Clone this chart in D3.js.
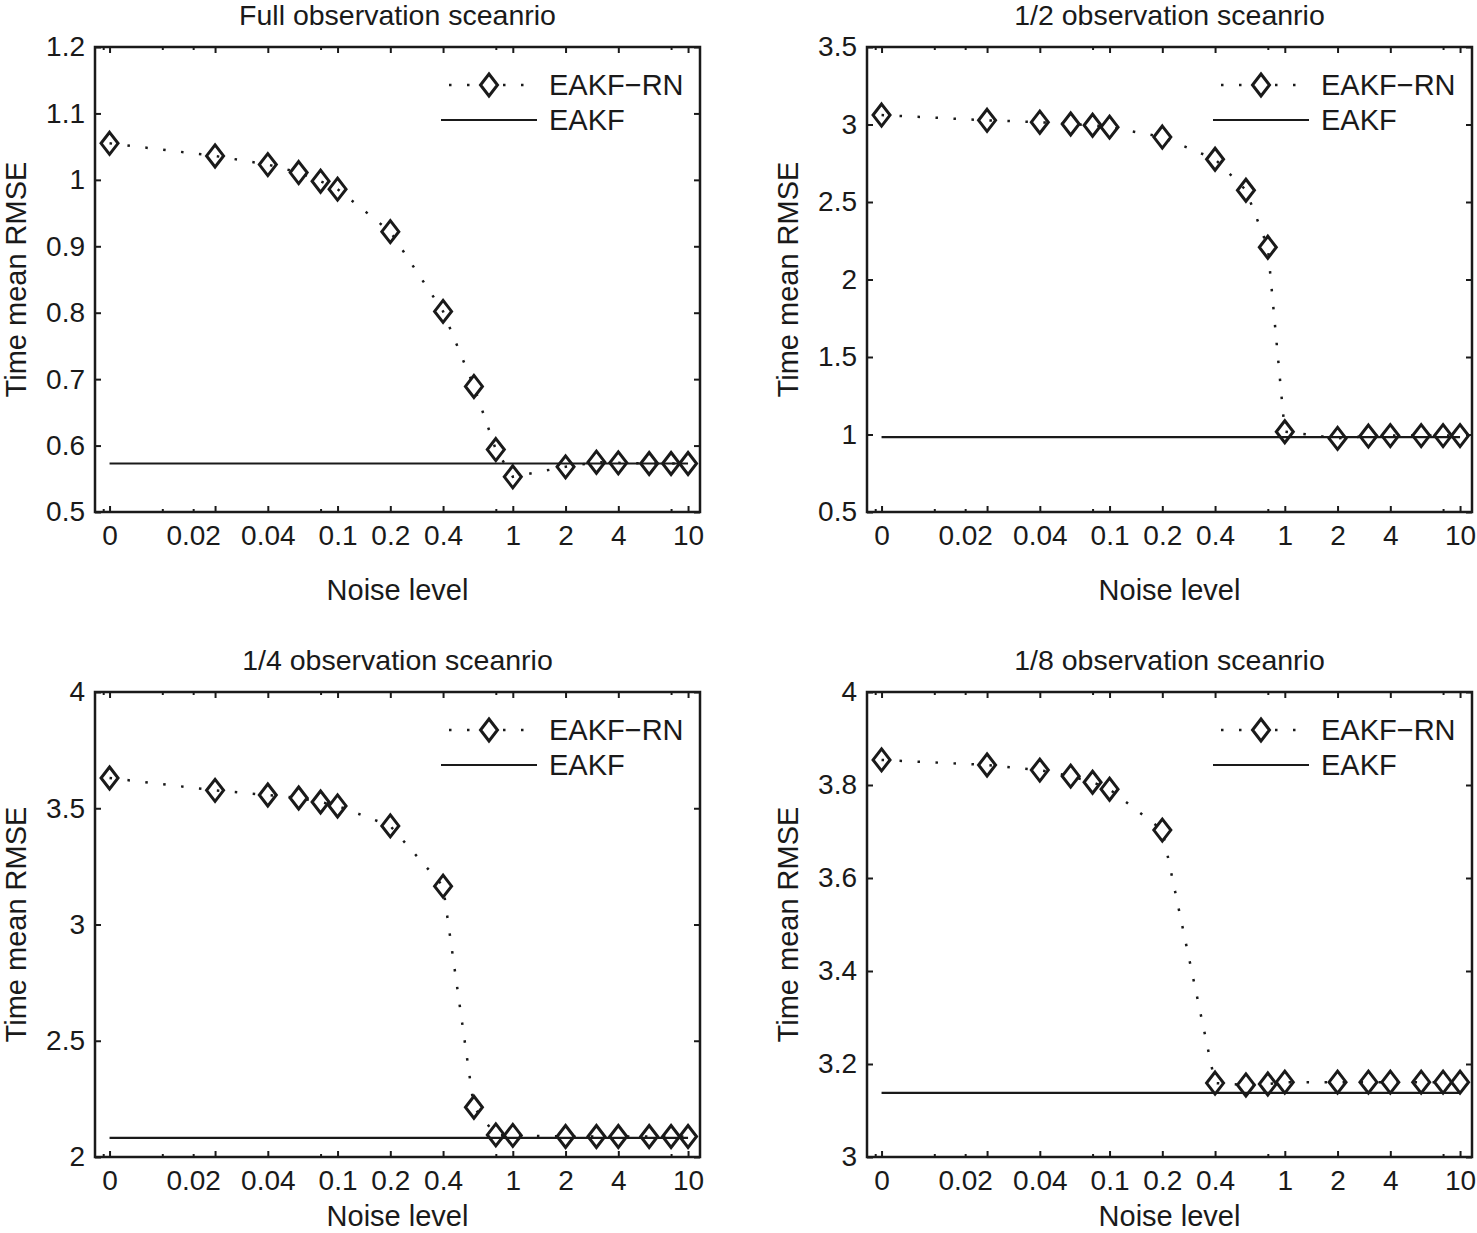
<!DOCTYPE html>
<html>
<head>
<meta charset="utf-8">
<script src="https://cdn.jsdelivr.net/npm/d3@7"></script>
<style>
  html, body { margin: 0; padding: 0; background: #fff; }
  svg { display: block; }
  text { font-family: "Liberation Sans", Arial, Helvetica, sans-serif; fill: #1a1a1a; }
</style>
</head>
<body>
<svg id="chart" width="1477" height="1233"></svg>
<script>
// ---------------- data ----------------
const noiseLevels = [0, 0.02, 0.04, 0.06, 0.08, 0.1, 0.2, 0.4, 0.6, 0.8, 1, 2, 3, 4, 6, 8, 10];

const fullRN    = [1.055, 1.036, 1.023, 1.011, 0.998, 0.986, 0.922, 0.802, 0.689, 0.594, 0.553, 0.568, 0.575, 0.574, 0.573, 0.573, 0.573];
const fullEAKF  = 0.573;

const halfRN    = [3.061, 3.027, 3.015, 3.003, 2.995, 2.983, 2.919, 2.776, 2.576, 2.208, 1.018, 0.975, 0.990, 0.993, 0.993, 0.993, 0.993];
const halfEAKF  = 0.983;

const quarterRN   = [3.630, 3.577, 3.557, 3.544, 3.527, 3.510, 3.424, 3.165, 2.214, 2.095, 2.093, 2.088, 2.088, 2.088, 2.088, 2.088, 2.088];
const quarterEAKF = 2.082;

const eighthRN    = [3.854, 3.843, 3.832, 3.819, 3.806, 3.791, 3.703, 3.159, 3.155, 3.157, 3.161, 3.161, 3.161, 3.161, 3.161, 3.161, 3.161];
const eighthEAKF  = 3.138;

const titles = ["Full observation sceanrio", "1/2 observation sceanrio", "1/4 observation sceanrio", "1/8 observation sceanrio"];

// major tick marks
const xTickValues = [0, 0.02, 0.04, 0.1, 0.2, 0.4, 1, 2, 4, 10];
// tick labels and where the original figure prints them
const xTickLabels = ["0", "0.02", "0.04", "0.1", "0.2", "0.4", "1", "2", "4", "10"];
const xTickLabelAt = [0, 0.015, 0.04, 0.1, 0.2, 0.4, 1, 2, 4, 10];
// short tick marks
const xMinorTicks = [0.0046, 0.01, 0.015, 0.08, 0.8, 8];

const yDomains = [[0.5, 1.2], [0.5, 3.5], [2, 4], [3, 4]];
const yTicks = [
  [0.5, 0.6, 0.7, 0.8, 0.9, 1, 1.1, 1.2],
  [0.5, 1, 1.5, 2, 2.5, 3, 3.5],
  [2, 2.5, 3, 3.5, 4],
  [3, 3.2, 3.4, 3.6, 3.8, 4]
];

const seriesNames = ["EAKF\u2212RN", "EAKF"];
const xLabel = "Noise level";
const yLabel = "Time mean RMSE";

// zero noise is drawn at a stand-in position on the log axis
const ZERO_PROXY = 0.005;
const xLimits = [0.00413, 11.7];

// ---------------- layout ----------------
const panels = [
  { rn: fullRN,    eakf: fullEAKF,    x0: 95,  x1: 700,  y0: 47,  y1: 512,  xlabY: 600 },
  { rn: halfRN,    eakf: halfEAKF,    x0: 867, x1: 1472, y0: 47,  y1: 512,  xlabY: 600 },
  { rn: quarterRN, eakf: quarterEAKF, x0: 95,  x1: 700,  y0: 692, y1: 1157, xlabY: 1226 },
  { rn: eighthRN,  eakf: eighthEAKF,  x0: 867, x1: 1472, y0: 692, y1: 1157, xlabY: 1226 }
];

const svg = d3.select("#chart");
const xv = v => (v === 0 ? ZERO_PROXY : v);
const fmt = d3.format("~g");
const FONT = '"Liberation Sans", Arial, Helvetica, sans-serif';

function diamondPath(cx, cy, hw, hh) {
  return `M${cx},${cy - hh}L${cx + hw},${cy}L${cx},${cy + hh}L${cx - hw},${cy}Z`;
}

panels.forEach((p, i) => {
  const x = d3.scaleLog().domain(xLimits).range([p.x0, p.x1]);
  const y = d3.scaleLinear().domain(yDomains[i]).range([p.y1, p.y0]);
  const g = svg.append("g");

  // title
  g.append("text")
    .attr("x", (p.x0 + p.x1) / 2).attr("y", p.y0 - 22)
    .attr("text-anchor", "middle").attr("font-size", 28.5)
    .text(titles[i]);

  // axes ticks
  const bottom = g.append("g").attr("transform", `translate(0,${p.y1})`)
    .call(d3.axisBottom(x).tickValues(xTickValues.map(xv)).tickFormat("").tickSizeInner(-6).tickSizeOuter(0));
  const bottomLabels = g.append("g").attr("transform", `translate(0,${p.y1})`)
    .call(d3.axisBottom(x).tickValues(xTickLabelAt.map(xv))
      .tickFormat((d, k) => xTickLabels[k]).tickSizeInner(0).tickSizeOuter(0).tickPadding(13));
  bottomLabels.selectAll(".tick line").remove();
  const bottomMinor = g.append("g").attr("transform", `translate(0,${p.y1})`)
    .call(d3.axisBottom(x).tickValues(xMinorTicks).tickFormat("").tickSizeInner(-3).tickSizeOuter(0));
  const top = g.append("g").attr("transform", `translate(0,${p.y0})`)
    .call(d3.axisTop(x).tickValues(xTickValues.map(xv)).tickFormat("").tickSizeInner(-6).tickSizeOuter(0));
  const topMinor = g.append("g").attr("transform", `translate(0,${p.y0})`)
    .call(d3.axisTop(x).tickValues(xMinorTicks).tickFormat("").tickSizeInner(-3).tickSizeOuter(0));
  const left = g.append("g").attr("transform", `translate(${p.x0},0)`)
    .call(d3.axisLeft(y).tickValues(yTicks[i]).tickFormat(fmt).tickSizeInner(-6).tickSizeOuter(0).tickPadding(10));
  const right = g.append("g").attr("transform", `translate(${p.x1},0)`)
    .call(d3.axisRight(y).tickValues(yTicks[i]).tickFormat("").tickSizeInner(-6).tickSizeOuter(0));

  [bottom, bottomLabels, bottomMinor, top, topMinor, left, right].forEach(a => {
    a.select(".domain").remove();
    a.selectAll(".tick line").attr("stroke", "#1a1a1a").attr("stroke-width", 2);
    a.selectAll(".tick text").attr("font-size", 28).attr("fill", "#1a1a1a").attr("font-family", FONT);
  });

  // box
  g.append("rect")
    .attr("x", p.x0).attr("y", p.y0)
    .attr("width", p.x1 - p.x0).attr("height", p.y1 - p.y0)
    .attr("fill", "none").attr("stroke", "#1a1a1a").attr("stroke-width", 2.5);

  // EAKF reference line
  g.append("line")
    .attr("x1", x(xv(noiseLevels[0]))).attr("x2", x(xv(noiseLevels[noiseLevels.length - 1])))
    .attr("y1", y(p.eakf)).attr("y2", y(p.eakf))
    .attr("stroke", "#1a1a1a").attr("stroke-width", 2.2);

  // EAKF-RN dotted line
  const pts = noiseLevels.map((n, k) => ({ n, v: p.rn[k] }));
  const line = d3.line().x(d => x(xv(d.n))).y(d => y(d.v));
  g.append("path").datum(pts)
    .attr("d", line).attr("fill", "none")
    .attr("stroke", "#1a1a1a").attr("stroke-width", 2.5)
    .attr("stroke-dasharray", "2.5 15.5");

  // diamonds
  g.selectAll("path.mk").data(pts).enter().append("path")
    .attr("class", "mk")
    .attr("d", d => diamondPath(x(xv(d.n)), y(d.v), 8.5, 11))
    .attr("fill", "none").attr("stroke", "#1a1a1a").attr("stroke-width", 3)
    .attr("stroke-linejoin", "miter");

  // legend
  const lx0 = p.x1 - 259, lx1 = p.x1 - 163, tx = p.x1 - 151;
  const ly1 = p.y0 + 38, ly2 = p.y0 + 73;
  g.append("line").attr("x1", lx0).attr("x2", lx1).attr("y1", ly1).attr("y2", ly1)
    .attr("stroke", "#1a1a1a").attr("stroke-width", 2.5).attr("stroke-dasharray", "2.5 15.5")
    .attr("stroke-dashoffset", -8);
  g.append("path").attr("d", diamondPath((lx0 + lx1) / 2, ly1, 8.5, 11))
    .attr("fill", "#fff").attr("stroke", "#1a1a1a").attr("stroke-width", 3);
  g.append("text").attr("x", tx).attr("y", ly1 + 10).attr("font-size", 29).text(seriesNames[0]);
  g.append("line").attr("x1", lx0).attr("x2", lx1).attr("y1", ly2).attr("y2", ly2)
    .attr("stroke", "#1a1a1a").attr("stroke-width", 2.2);
  g.append("text").attr("x", tx).attr("y", ly2 + 10).attr("font-size", 29).text(seriesNames[1]);

  // axis labels
  g.append("text")
    .attr("x", (p.x0 + p.x1) / 2).attr("y", p.xlabY)
    .attr("text-anchor", "middle").attr("font-size", 29)
    .text(xLabel);
  g.append("text")
    .attr("transform", `translate(${p.x0 - 69},${(p.y0 + p.y1) / 2}) rotate(-90)`)
    .attr("text-anchor", "middle").attr("font-size", 29)
    .text(yLabel);
});
</script>
</body>
</html>
